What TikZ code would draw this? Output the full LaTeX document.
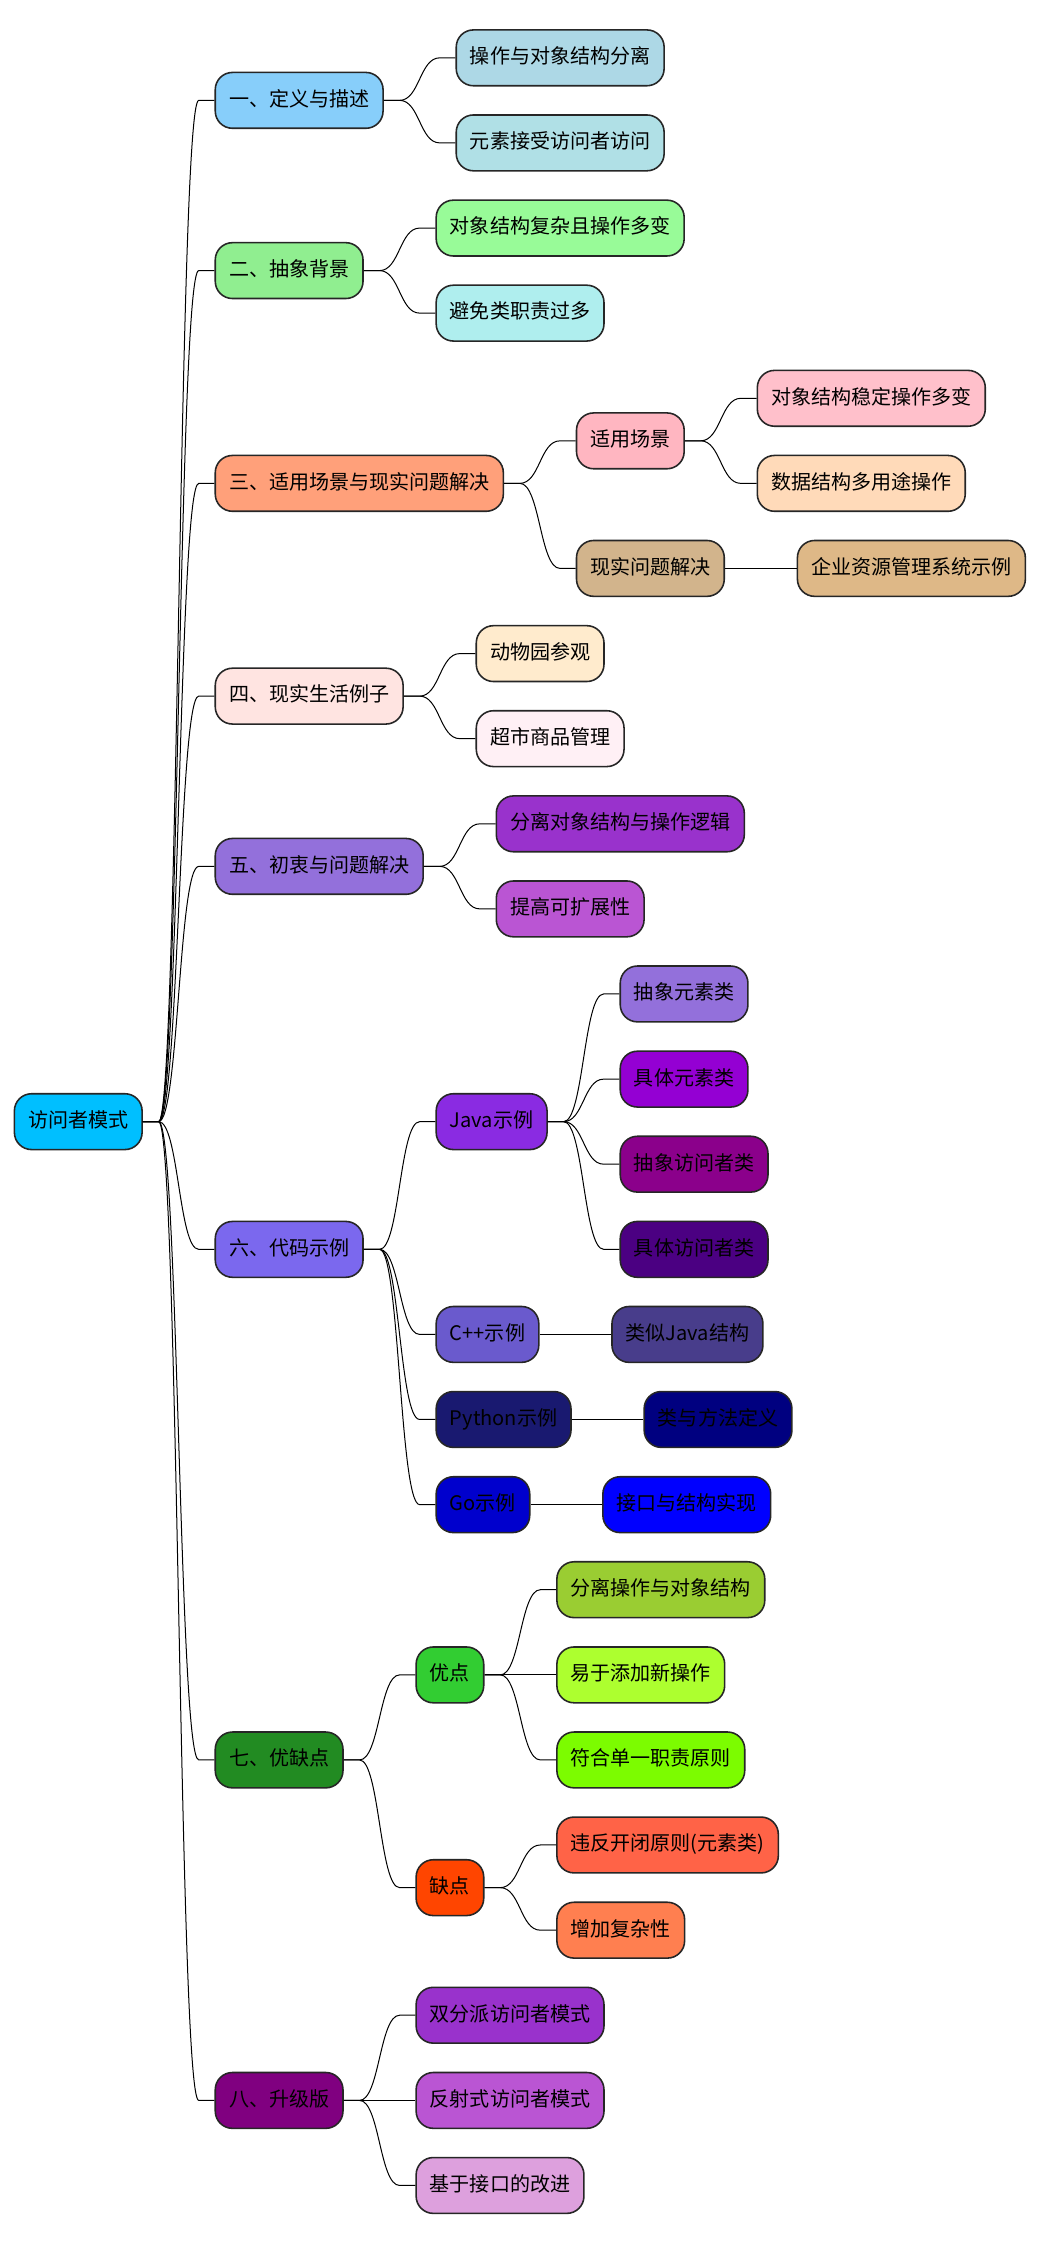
\documentclass[tikz,border=0pt]{standalone}
\usepackage{fontspec}
\setmainfont{Noto Sans CJK SC}
\usetikzlibrary{calc}
\definecolor{cRoot}{HTML}{00BFFF}
\definecolor{cA}{HTML}{87CEFA}
\definecolor{cAa}{HTML}{ADD8E6}
\definecolor{cAb}{HTML}{B0E0E6}
\definecolor{cB}{HTML}{90EE90}
\definecolor{cBa}{HTML}{98FB98}
\definecolor{cBb}{HTML}{AFEEEE}
\definecolor{cC}{HTML}{FFA07A}
\definecolor{cCa}{HTML}{FFB6C1}
\definecolor{cCaa}{HTML}{FFC0CB}
\definecolor{cCab}{HTML}{FFDAB9}
\definecolor{cCb}{HTML}{D2B48C}
\definecolor{cCba}{HTML}{DEB887}
\definecolor{cD}{HTML}{FFE4E1}
\definecolor{cDa}{HTML}{FFEBCD}
\definecolor{cDb}{HTML}{FFF0F5}
\definecolor{cE}{HTML}{9370DB}
\definecolor{cEa}{HTML}{9932CC}
\definecolor{cEb}{HTML}{BA55D3}
\definecolor{cF}{HTML}{7B68EE}
\definecolor{cFa}{HTML}{8A2BE2}
\definecolor{cFaa}{HTML}{9370DB}
\definecolor{cFab}{HTML}{9400D3}
\definecolor{cFac}{HTML}{8B008B}
\definecolor{cFad}{HTML}{4B0082}
\definecolor{cFb}{HTML}{6A5ACD}
\definecolor{cFba}{HTML}{483D8B}
\definecolor{cFc}{HTML}{191970}
\definecolor{cFca}{HTML}{000080}
\definecolor{cFd}{HTML}{0000CD}
\definecolor{cFda}{HTML}{0000FF}
\definecolor{cG}{HTML}{228B22}
\definecolor{cGa}{HTML}{32CD32}
\definecolor{cGaa}{HTML}{9ACD32}
\definecolor{cGab}{HTML}{ADFF2F}
\definecolor{cGac}{HTML}{7CFC00}
\definecolor{cGb}{HTML}{FF4500}
\definecolor{cGba}{HTML}{FF6347}
\definecolor{cGbb}{HTML}{FF7F50}
\definecolor{cH}{HTML}{800080}
\definecolor{cHa}{HTML}{9932CC}
\definecolor{cHb}{HTML}{BA55D3}
\definecolor{cHc}{HTML}{DDA0DD}
\definecolor{cBorder}{HTML}{262626}
\tikzset{
  mm/.style={draw=cBorder, line width=1.1pt, rounded corners=12pt,
    minimum height=39pt, inner xsep=9.6pt, inner ysep=0pt,
    text height=10.8pt, text depth=2.6pt,
    font=\fontsize{14pt}{16pt}\selectfont, text=black},
  conn/.style={draw=black, line width=0.7pt}
}
\newcommand\linkto[2]{%
  \draw[conn] (#1.east) -- ([xshift=11pt]#1.east)
    .. controls ([xshift=25pt]#1.east) and ([xshift=-25pt]#2.west)
    .. ([xshift=-11pt]#2.west) -- (#2.west);
}
\newcommand\mmnode[5]{%
  \path (#1.east) ++(50,0) coordinate (#2t);
  \node[mm, fill=#4, anchor=west] (#2) at (#2t |- 0,#3) {#5};
  \linkto{#1}{#2}
}
\begin{document}
\begin{tikzpicture}[x=1pt, y=-1pt]
\fill[white] (0,0) rectangle (732,1568);
\useasboundingbox (0,0) rectangle (732,1568);
\node[mm, fill=cRoot, anchor=west] (root) at (9.5,783.4) {访问者模式};
% level 1
\mmnode{root}{A}{70.1}{cA}{一、定义与描述}
\mmnode{root}{B}{189.0}{cB}{二、抽象背景}
\mmnode{root}{C}{337.6}{cC}{三、适用场景与现实问题解决}
\mmnode{root}{D}{486.2}{cD}{四、现实生活例子}
\mmnode{root}{E}{605.1}{cE}{五、初衷与问题解决}
\mmnode{root}{F}{872.6}{cF}{六、代码示例}
\mmnode{root}{G}{1229.2}{cG}{七、优缺点}
\mmnode{root}{H}{1467.0}{cH}{八、升级版}
% 一
\mmnode{A}{Aa}{40.4}{cAa}{操作与对象结构分离}
\mmnode{A}{Ab}{99.8}{cAb}{元素接受访问者访问}
% 二
\mmnode{B}{Ba}{159.3}{cBa}{对象结构复杂且操作多变}
\mmnode{B}{Bb}{218.7}{cBb}{避免类职责过多}
% 三
\mmnode{C}{Ca}{307.9}{cCa}{适用场景}
\mmnode{C}{Cb}{397.0}{cCb}{现实问题解决}
\mmnode{Ca}{Caa}{278.2}{cCaa}{对象结构稳定操作多变}
\mmnode{Ca}{Cab}{337.6}{cCab}{数据结构多用途操作}
\mmnode{Cb}{Cba}{397.0}{cCba}{企业资源管理系统示例}
% 四
\mmnode{D}{Da}{456.5}{cDa}{动物园参观}
\mmnode{D}{Db}{515.9}{cDb}{超市商品管理}
% 五
\mmnode{E}{Ea}{575.4}{cEa}{分离对象结构与操作逻辑}
\mmnode{E}{Eb}{634.8}{cEb}{提高可扩展性}
% 六
\mmnode{F}{Fa}{783.4}{cFa}{Java示例}
\mmnode{F}{Fb}{932.0}{cFb}{C++示例}
\mmnode{F}{Fc}{991.4}{cFc}{Python示例}
\mmnode{F}{Fd}{1050.9}{cFd}{Go示例}
\mmnode{Fa}{Faa}{694.2}{cFaa}{抽象元素类}
\mmnode{Fa}{Fab}{753.7}{cFab}{具体元素类}
\mmnode{Fa}{Fac}{813.1}{cFac}{抽象访问者类}
\mmnode{Fa}{Fad}{872.6}{cFad}{具体访问者类}
\mmnode{Fb}{Fba}{932.0}{cFba}{类似Java结构}
\mmnode{Fc}{Fca}{991.4}{cFca}{类与方法定义}
\mmnode{Fd}{Fda}{1050.9}{cFda}{接口与结构实现}
% 七
\mmnode{G}{Ga}{1169.8}{cGa}{优点}
\mmnode{G}{Gb}{1318.4}{cGb}{缺点}
\mmnode{Ga}{Gaa}{1110.3}{cGaa}{分离操作与对象结构}
\mmnode{Ga}{Gab}{1169.8}{cGab}{易于添加新操作}
\mmnode{Ga}{Gac}{1229.2}{cGac}{符合单一职责原则}
\mmnode{Gb}{Gba}{1288.6}{cGba}{违反开闭原则(元素类)}
\mmnode{Gb}{Gbb}{1348.1}{cGbb}{增加复杂性}
% 八
\mmnode{H}{Ha}{1407.5}{cHa}{双分派访问者模式}
\mmnode{H}{Hb}{1467.0}{cHb}{反射式访问者模式}
\mmnode{H}{Hc}{1526.4}{cHc}{基于接口的改进}
\end{tikzpicture}
\end{document}
